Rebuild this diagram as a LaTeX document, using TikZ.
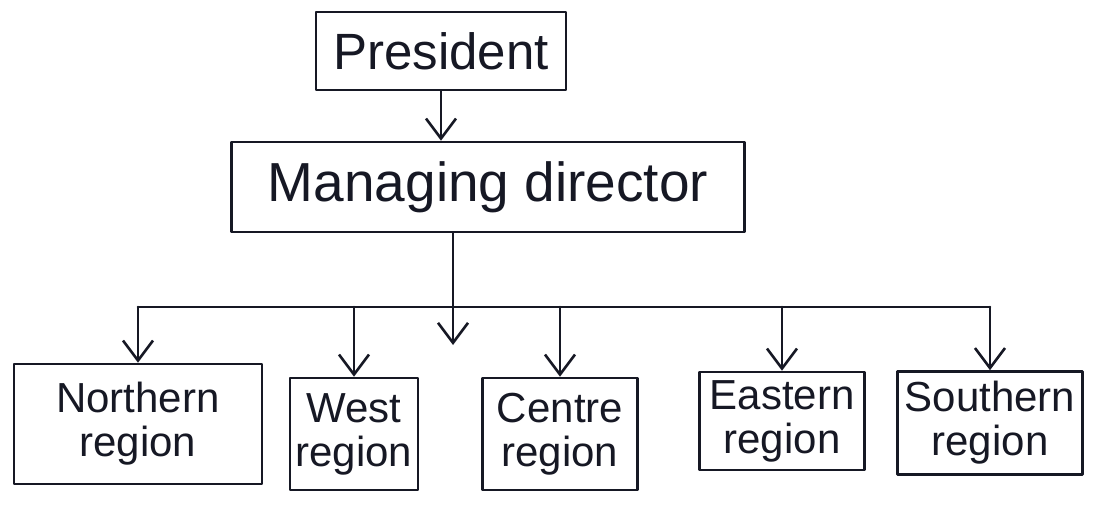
\documentclass[tikz,border=0pt]{standalone}
\usepackage{fontspec}
\setmainfont{Liberation Sans}
\usetikzlibrary{arrows.meta}
\definecolor{ink}{RGB}{22,24,36}
\begin{document}
\begin{tikzpicture}[x=1pt,y=-1pt,
  inkline/.style={draw=ink, line width=2.6pt, line cap=round, line join=round},
  box/.style={inkline, rectangle, inner sep=0pt, align=center, text=ink},
  topbox/.style={box, font=\fontsize{51}{56}\selectfont},
  regbox/.style={box, font=\fontsize{42}{44}\selectfont},
  link/.style={inkline},
  arr/.style={inkline, -{Straight Barb[length=20pt,width=30pt]}}
]
\fill[white] (0,0) rectangle (1094,513);
\useasboundingbox (0,0) rectangle (1094,513);

% top of the hierarchy
\node[topbox, minimum width=250pt, minimum height=78pt] (pres) at (441,51) {President};
\node[topbox, font=\fontsize{55}{60}\selectfont, minimum width=513pt, minimum height=90pt] (md) at (488,187) {Managing director};

% regional offices
\node[regbox, minimum width=248pt, minimum height=120pt] (north) at (138,424) {Northern\\region};
\node[regbox, minimum width=128pt, minimum height=112pt] (west) at (354,434) {West\\region};
\node[regbox, minimum width=155pt, minimum height=112pt] (centre) at (560,434) {Centre\\region};
\node[regbox, minimum width=165pt, minimum height=98pt] (east) at (782,421) {Eastern\\region};
\node[regbox, minimum width=185pt, minimum height=103pt] (south) at (990,423) {Southern\\region};

% distribution bar below the managing director
\coordinate (bus) at (453,307);
\coordinate (stub) at (453,345);

\draw[arr] (pres.south) -- (pres.south |- md.north);
\draw[link] (md.south -| bus) -- (bus);
\draw[arr] (bus) -- (stub);
\draw[link] (bus -| north.north) -- (bus -| south.north);
\foreach \r in {north, west, centre, east, south}
  \draw[arr] (bus -| \r.north) -- (\r.north);
\end{tikzpicture}
\end{document}
